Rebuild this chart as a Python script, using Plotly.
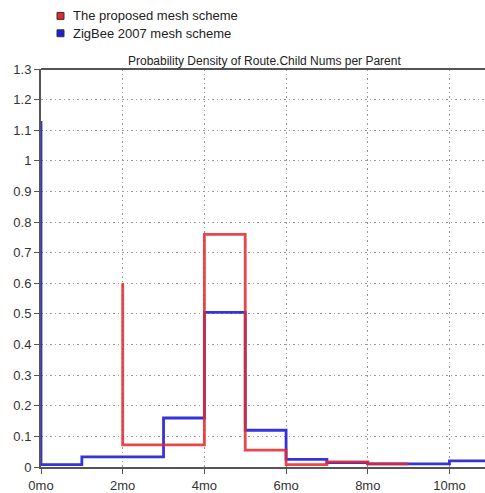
import plotly.graph_objects as go

# Step series: value holds from each x until the next x
proposed_x = [2, 2, 4, 5, 6, 7, 8, 9]
proposed_y = [0.60, 0.072, 0.76, 0.055, 0.008, 0.017, 0.01, 0.01]

zigbee_x = [0, 0, 1, 3, 4, 5, 6, 7, 8, 9, 10, 10.9]
zigbee_y = [1.13, 0.008, 0.033, 0.16, 0.505, 0.12, 0.025, 0.014, 0.01, 0.01, 0.02, 0.02]

series_names = ["The proposed mesh scheme", "ZigBee 2007 mesh scheme"]
series_colors = ["#e8262c", "#1f1fd6"]

tick_vals = [0, 2, 4, 6, 8, 10]
tick_text = ["0mo", "2mo", "4mo", "6mo", "8mo", "10mo"]

title_text = "Probability Density of Route.Child Nums per Parent"

FONT = "Liberation Sans, Arial, sans-serif"

fig = go.Figure()
fig.add_trace(go.Scatter(x=zigbee_x, y=zigbee_y, mode="lines", line_shape="hv",
                         line=dict(color=series_colors[1], width=2.8),
                         opacity=0.9, name=series_names[1], showlegend=False))
fig.add_trace(go.Scatter(x=proposed_x, y=proposed_y, mode="lines", line_shape="hv",
                         line=dict(color=series_colors[0], width=2.8),
                         opacity=0.85, name=series_names[0], showlegend=False))

W, H = 485, 493
L, T, B, R = 41, 69, 23, 0
pw, ph = W - L - R, H - T - B

def px_to_paper_x(px):
    return (px - L) / pw

def px_to_paper_y(py):
    return (H - B - py) / ph

shapes = []
annotations = []
# hand-drawn legend: square swatches with a dark outline
for i, (name, col) in enumerate(zip(series_names, series_colors)):
    cy = 15.5 + i * 17.5
    shapes.append(dict(type="rect", xref="paper", yref="paper",
                       x0=px_to_paper_x(57), x1=px_to_paper_x(64),
                       y0=px_to_paper_y(cy + 3.5), y1=px_to_paper_y(cy - 3.5),
                       fillcolor=col, line=dict(color="#333333", width=1)))
    annotations.append(dict(text=name, xref="paper", yref="paper",
                            x=px_to_paper_x(71), y=px_to_paper_y(cy),
                            xanchor="left", yanchor="middle", showarrow=False,
                            font=dict(family=FONT, size=13, color="#222222")))

# top border of the plot area
shapes.append(dict(type="line", xref="paper", yref="paper", x0=0, x1=1, y0=1, y1=1,
                   line=dict(color="#555555", width=2)))

annotations.append(dict(text=title_text, xref="paper", yref="paper",
                        x=px_to_paper_x(264), y=px_to_paper_y(60.5),
                        xanchor="center", yanchor="middle", showarrow=False,
                        font=dict(family=FONT, size=12, color="#222222")))

fig.update_layout(
    width=W, height=H,
    margin=dict(l=L, r=R, t=T, b=B, pad=0),
    paper_bgcolor="white", plot_bgcolor="white",
    shapes=shapes, annotations=annotations,
    font=dict(family=FONT, size=13, color="#333333"),
)
grid_dash = "1.5px,3px"
fig.update_xaxes(range=[0, 10.87], tickvals=tick_vals, ticktext=tick_text,
                 showgrid=True, gridcolor="#999999", griddash=grid_dash, gridwidth=1.3,
                 showline=True, linecolor="#555555", linewidth=2,
                 ticks="outside", ticklen=5, tickcolor="#555555",
                 zeroline=False, tickfont=dict(family=FONT, size=13, color="#333333"))
fig.update_yaxes(range=[0, 1.3], dtick=0.1, tickformat="~g",
                 showgrid=True, gridcolor="#999999", griddash=grid_dash, gridwidth=1.3,
                 showline=True, linecolor="#555555", linewidth=2,
                 ticks="outside", ticklen=5, tickcolor="#555555",
                 zeroline=False, tickfont=dict(family=FONT, size=13, color="#333333"))

fig.write_html("out.html")
